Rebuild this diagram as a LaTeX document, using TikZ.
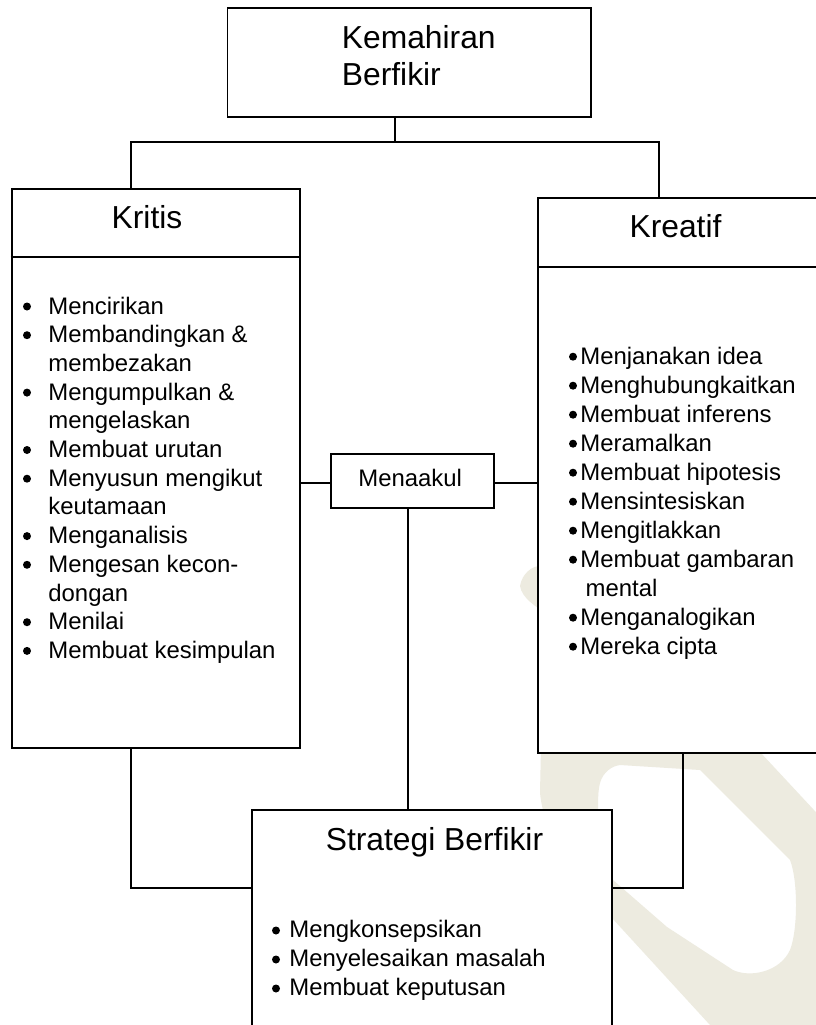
\documentclass[tikz,border=0pt]{standalone}
\usepackage{fontspec}
\setmainfont{Liberation Sans}
\definecolor{wm}{RGB}{237,235,224}
\begin{document}
\begin{tikzpicture}[x=1pt,y=-1pt,
  box/.style={draw, line width=1.8pt, fill=white, inner sep=0pt, anchor=north west},
  ln/.style={line width=1.8pt},
  ttl/.style={font=\fontsize{31.8}{36}\selectfont, inner sep=0pt, anchor=base west},
  itm/.style={font=\fontsize{23.9}{28}\selectfont, inner sep=0pt, anchor=base west},
  dot/.style={circle, fill=black, inner sep=0pt, minimum size=8pt}]
\clip (0,0) rectangle (816,1025);
\fill[white] (0,0) rectangle (816,1025);
% watermark
\fill[wm, even odd rule]
 (520,586) .. controls (522,574) and (532,565) .. (542,566)
 -- (760,752) -- (840,838)
 .. controls (855,870) and (860,960) .. (840,1010)
 .. controls (815,1050) and (740,1050) .. (710,1025)
 -- (612,918)
 .. controls (575,880) and (545,840) .. (540,793)
 -- (542,700) -- (548,615)
 .. controls (535,606) and (522,598) .. (520,586) -- cycle
 (620,765) -- (700,770) -- (790,860)
 .. controls (798,880) and (798,930) .. (790,950)
 .. controls (780,972) and (750,978) .. (733,970)
 -- (667,927) -- (613,880)
 .. controls (600,860) and (595,800) .. (600,783)
 .. controls (603,772) and (612,766) .. (620,765) -- cycle;
% boxes
\node[box, minimum width=363.5pt, minimum height=108.5pt] (top) at (226.6,7.3) {};
\node[box, minimum width=288.3pt, minimum height=559pt] (kritis) at (10.7,188) {};
\node[box, minimum width=300pt, minimum height=555pt] (kreatif) at (537,197) {};
\node[box, minimum width=163pt, minimum height=54pt] (mena) at (330,453) {};
\node[box, minimum width=360pt, minimum height=250pt] (strat) at (251,809) {};
% dividers
\draw[ln] ([yshift=-69pt]kritis.north west) -- ([yshift=-69pt]kritis.north east);
\draw[ln] ([yshift=-70pt]kreatif.north west) -- ([yshift=-70pt]kreatif.north east);
% connectors
\coordinate (stem) at (395,142);
\coordinate (jl) at (131,142);
\coordinate (jr) at (659,142);
\draw[ln] (top.south -| stem) -- (stem);
\draw[ln] (jl |- kritis.north) -- (jl) -- (jr) -- (jr |- kreatif.north);
\coordinate (mh) at (0,483);
\draw[ln] (kritis.east |- mh) -- (mena.west |- mh);
\draw[ln] (mena.east |- mh) -- (kreatif.west |- mh);
\coordinate (mv) at (408,0);
\draw[ln] (mena.south -| mv) -- (strat.north -| mv);
\coordinate (bl) at (131,888);
\coordinate (br) at (683,888);
\draw[ln] (kritis.south -| bl) -- (bl) -- (strat.west |- bl);
\draw[ln] (kreatif.south -| br) -- (br) -- (strat.east |- br);
% titles
\node[ttl] (kem1) at (341.7,48.3) {Kemahiran};
\node[ttl] (kem2) at (341.7,85) {Berfikir};
\node[ttl, anchor=base] (kritisT) at (147,228.3) {Kritis};
\node[ttl, anchor=base] (kreatifT) at (675.5,237) {Kreatif};
\node[ttl, anchor=base] (stratT) at (434.5,850) {Strategi Berfikir};
\node[itm] (menaT) at (358.2,486) {Menaakul};
% Kritis list
\foreach \b/\t [count=\i] in {1/Mencirikan, 1/Membandingkan \&, 0/membezakan,
  1/Mengumpulkan \&, 0/mengelaskan, 1/Membuat urutan, 1/Menyusun mengikut,
  0/keutamaan, 1/Menganalisis, 1/Mengesan kecon-, 0/dongan, 1/Menilai,
  1/Membuat kesimpulan}{
  \node[itm] (kl\i) at (48.2,{314+(\i-1)*28.7}) {\t};
  \ifnum\b=1 \node[dot] (kd\i) at (27,{306.5+(\i-1)*28.7}) {};\fi
}
% Kreatif list
\foreach \b/\x/\t [count=\i] in {1/580.2/Menjanakan idea, 1/580.2/Menghubungkaitkan,
  1/580.2/Membuat inferens, 1/580.2/Meramalkan, 1/580.2/Membuat hipotesis,
  1/580.2/Mensintesiskan, 1/580.2/Mengitlakkan, 1/580.2/Membuat gambaran,
  0/585.5/mental, 1/580.2/Menganalogikan, 1/580.2/Mereka cipta}{
  \node[itm] (ml\i) at (\x,{364+(\i-1)*29}) {\t};
  \ifnum\b=1 \node[dot] (md\i) at (573,{356.7+(\i-1)*29}) {};\fi
}
% Strategi list
\foreach \t [count=\i] in {Mengkonsepsikan, Menyelesaikan masalah, Membuat keputusan}{
  \node[itm] (sl\i) at (289.2,{937+(\i-1)*29}) {\t};
  \node[dot] (sd\i) at (276,{930.5+(\i-1)*29}) {};
}
\end{tikzpicture}
\end{document}
